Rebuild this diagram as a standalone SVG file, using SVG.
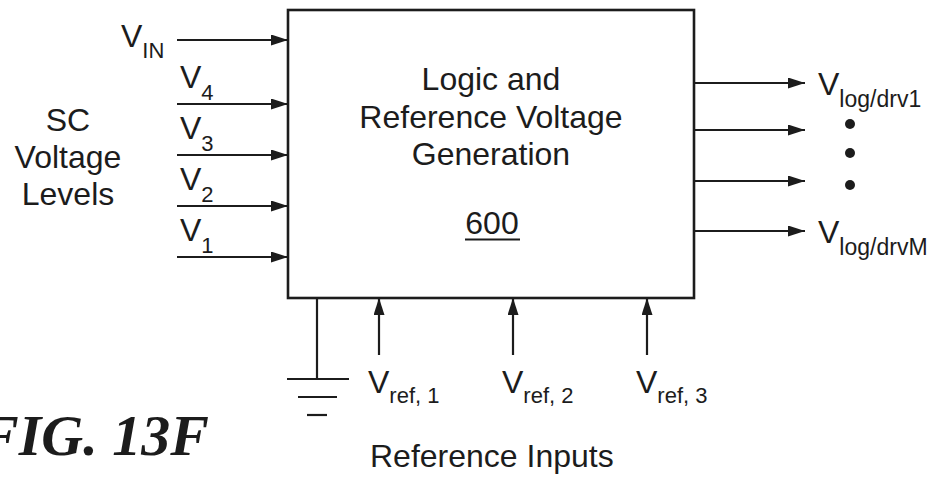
<svg xmlns="http://www.w3.org/2000/svg" width="936" height="480" viewBox="0 0 936 480">
<style>
  .t { font-family: "Liberation Sans", Arial, sans-serif; font-size: 32px; fill: #1c1c1c; }
  .s { font-size: 22px; }
  .so { font-size: 23px; }
  .ln { stroke: #1c1c1c; stroke-width: 2.2; fill: none; }
  .box { stroke: #1c1c1c; stroke-width: 2.6; fill: #fff; }
  .fig { font-family: "Liberation Serif", "Times New Roman", serif; font-size: 58px; font-weight: bold; font-style: italic; fill: #1c1c1c; }
</style>
<defs>
  <marker id="ah" markerUnits="userSpaceOnUse" markerWidth="17" markerHeight="11" refX="17" refY="5.5" orient="auto">
    <path d="M0,0 L17,5.5 L0,11 z" fill="#1c1c1c"/>
  </marker>
</defs>
<rect width="936" height="480" fill="#fff"/>

<g id="block600">
  <rect class="box" x="288" y="10" width="406" height="288"/>
  <text class="t" x="491" y="90" text-anchor="middle">Logic and</text>
  <text class="t" x="491" y="128" text-anchor="middle">Reference Voltage</text>
  <text class="t" x="491" y="165" text-anchor="middle">Generation</text>
  <text class="t" x="492" y="234" text-anchor="middle">600</text>
  <line class="ln" x1="465" y1="239.5" x2="520" y2="239.5"/>
</g>

<g id="connectors">
  <line class="ln" x1="177" y1="40" x2="288" y2="40" marker-end="url(#ah)"/>
  <line class="ln" x1="177" y1="104" x2="288" y2="104" marker-end="url(#ah)"/>
  <line class="ln" x1="177" y1="155" x2="288" y2="155" marker-end="url(#ah)"/>
  <line class="ln" x1="177" y1="206" x2="288" y2="206" marker-end="url(#ah)"/>
  <line class="ln" x1="177" y1="257" x2="288" y2="257" marker-end="url(#ah)"/>
  <line class="ln" x1="694" y1="83" x2="805" y2="83" marker-end="url(#ah)"/>
  <line class="ln" x1="694" y1="130" x2="805" y2="130" marker-end="url(#ah)"/>
  <line class="ln" x1="694" y1="181" x2="805" y2="181" marker-end="url(#ah)"/>
  <line class="ln" x1="694" y1="231" x2="805" y2="231" marker-end="url(#ah)"/>
  <line class="ln" x1="379" y1="355" x2="379" y2="298" marker-end="url(#ah)"/>
  <line class="ln" x1="513" y1="355" x2="513" y2="298" marker-end="url(#ah)"/>
  <line class="ln" x1="647" y1="355" x2="647" y2="298" marker-end="url(#ah)"/>
  <line class="ln" x1="317" y1="298" x2="317" y2="379"/>
</g>

<g id="ground">
  <line class="ln" x1="287" y1="379" x2="349" y2="379"/>
  <line class="ln" x1="298" y1="397" x2="337" y2="397"/>
  <line class="ln" x1="307" y1="415" x2="327" y2="415"/>
</g>

<g id="inputs">
  <text class="t" x="121" y="47">V<tspan class="s" dy="11">IN</tspan></text>
  <text class="t" x="180" y="88">V<tspan class="s" dy="12">4</tspan></text>
  <text class="t" x="180" y="139">V<tspan class="s" dy="12">3</tspan></text>
  <text class="t" x="180" y="190">V<tspan class="s" dy="12">2</tspan></text>
  <text class="t" x="180" y="241">V<tspan class="s" dy="12">1</tspan></text>
  <text class="t" x="68" y="131" text-anchor="middle">SC</text>
  <text class="t" x="68" y="168" text-anchor="middle">Voltage</text>
  <text class="t" x="68" y="205" text-anchor="middle">Levels</text>
</g>

<g id="outputs">
  <text class="t" x="818" y="95">V<tspan class="so" dy="12">log/drv1</tspan></text>
  <circle cx="850" cy="124" r="5" fill="#1c1c1c"/>
  <circle cx="850" cy="153" r="5" fill="#1c1c1c"/>
  <circle cx="850" cy="185" r="5" fill="#1c1c1c"/>
  <text class="t" x="818" y="243">V<tspan class="so" dy="12">log/drvM</tspan></text>
</g>

<g id="references">
  <text class="t" x="368" y="393">V<tspan class="s" dy="10">ref, 1</tspan></text>
  <text class="t" x="502" y="393">V<tspan class="s" dy="10">ref, 2</tspan></text>
  <text class="t" x="636" y="393">V<tspan class="s" dy="10">ref, 3</tspan></text>
  <text class="t" x="370" y="467">Reference Inputs</text>
</g>

<text class="fig" x="-20" y="455">FIG. 13F</text>
</svg>
